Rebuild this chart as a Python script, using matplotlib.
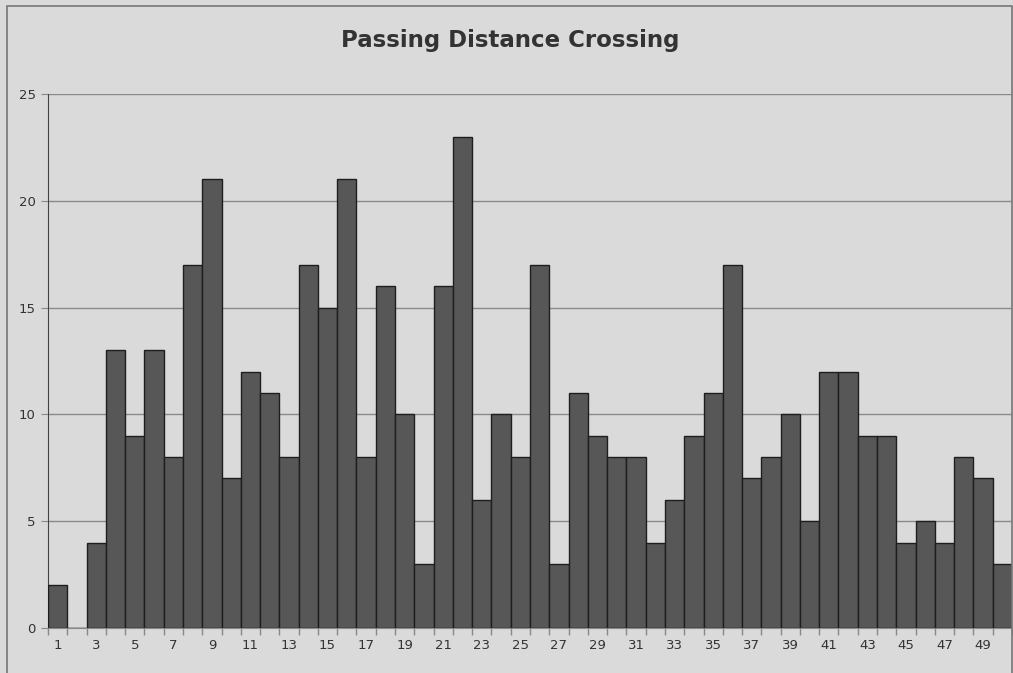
import numpy as np
import matplotlib
matplotlib.use("Agg")
import matplotlib.pyplot as plt
from matplotlib.patches import Rectangle

title = "Passing Distance Crossing"
positions = list(range(1, 51))
counts = [2, 0, 4, 13, 9, 13, 8, 17, 21, 7,
          12, 11, 8, 17, 15, 21, 8, 16, 10, 3,
          16, 23, 6, 10, 8, 17, 3, 11, 9, 8,
          8, 4, 6, 9, 11, 17, 7, 8, 10, 5,
          12, 12, 9, 9, 4, 5, 4, 8, 7, 3]
y_ticks = [0, 5, 10, 15, 20, 25]
x_labels = list(range(1, 50, 2))

W, H = 1013, 673
bg = "#dadada"

fig = plt.figure(figsize=(W / 100, H / 100), dpi=100, facecolor=bg)
ax = fig.add_axes([48 / W, 1 - 628 / H, (1012 - 48) / W, (628 - 94) / H])
ax.set_facecolor(bg)

ax.bar(positions, counts, width=1.0, color="#575757", edgecolor="#1e1e1e",
       linewidth=1.0, zorder=3)

ax.set_xlim(0.5, 50.5)
ax.set_ylim(0, 25)
ax.set_yticks(y_ticks)
ax.yaxis.grid(True, color="#8a8a8a", linewidth=1.0, zorder=0)

# ticks at bar boundaries, labels on odd categories
ax.set_xticks(np.arange(0.5, 51, 1))
ax.set_xticklabels([])
ax.set_xticks(x_labels, minor=True)
ax.set_xticklabels([str(v) for v in x_labels], minor=True)
ax.tick_params(axis="x", which="major", length=5, color="#888888", width=1)
ax.tick_params(axis="x", which="minor", length=0, pad=8, labelsize=9.5,
               labelcolor="#333333")
ax.tick_params(axis="y", length=5, color="#888888", labelsize=9.5,
               labelcolor="#333333", pad=4)

for s in ["top", "right"]:
    ax.spines[s].set_visible(False)
ax.spines["left"].set_color("#444444")
ax.spines["bottom"].set_color("#888888")

fig.text(510 / W, 1 - 40 / H, title, ha="center", va="center",
         fontsize=16.5, fontweight="bold", color="#333333")

# outer chart border
fig.add_artist(Rectangle((7 / W, -0.1), (1012 - 7) / W, 1.1 - 6 / H,
                         transform=fig.transFigure, fill=False,
                         edgecolor="#777777", linewidth=1.2))

fig.savefig("out.png", dpi=100, facecolor=bg)
